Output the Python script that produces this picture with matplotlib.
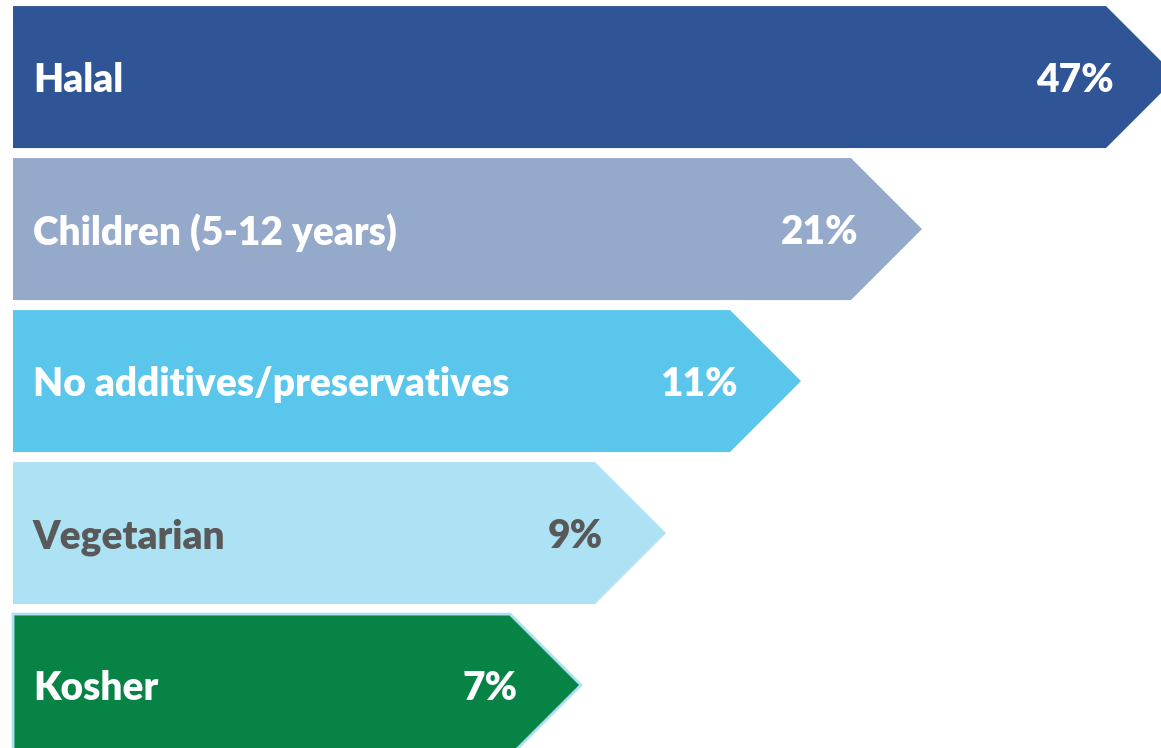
import matplotlib.pyplot as plt
from matplotlib.patches import Polygon

plt.rcParams['font.family'] = ['Lato', 'DejaVu Sans']

categories = ["Halal", "Children (5-12 years)", "No additives/preservatives", "Vegetarian", "Kosher"]
shares = [47, 21, 11, 9, 7]
# length of each arrow body as drawn in the infographic (not proportional to share)
arrow_lengths = [1093, 838, 717, 582, 497]

FILL_COLORS = ["#2F5597", "#95A9CB", "#5BC6EB", "#ACE2F4", "#078445"]
TEXT_COLORS = ["white", "white", "white", "#595959", "white"]
EDGE_COLORS = ["none", "none", "none", "none", "#AEE0F2"]

W, H, DPI = 11.61, 7.48, 100
BAR_HEIGHT = 0.934
LABEL_PAD = 20
VALUE_PAD = 8
FONT_SIZE = 28


def arrow(ax, y, length, color, edge):
    # tip depth so the arrow head has 45 degree edges
    px_per_x = W * DPI / (ax.get_xlim()[1] - ax.get_xlim()[0])
    px_per_y = H * DPI / abs(ax.get_ylim()[1] - ax.get_ylim()[0])
    half = BAR_HEIGHT / 2
    depth = half * px_per_y / px_per_x
    pts = [(0, y - half), (length, y - half), (length + depth, y),
           (length, y + half), (0, y + half)]
    lw = 2 if edge != "none" else 0
    ax.add_patch(Polygon(pts, closed=True, facecolor=color, edgecolor=edge,
                         linewidth=lw, joinstyle='miter'))


fig = plt.figure(figsize=(W, H), dpi=DPI)
ax = fig.add_axes([0, 0, 1, 1])
ax.set_xlim(-13, 1148)
ax.set_ylim(4.414, -0.507)
ax.axis('off')

for i, (cat, share, length) in enumerate(zip(categories, shares, arrow_lengths)):
    arrow(ax, i, length, FILL_COLORS[i], EDGE_COLORS[i])
    ax.text(LABEL_PAD, i, cat, color=TEXT_COLORS[i], fontsize=FONT_SIZE,
            fontweight='heavy', va='center_baseline', ha='left')
    ax.text(length + VALUE_PAD, i, f"{share}%", color=TEXT_COLORS[i], fontsize=FONT_SIZE,
            fontweight='heavy', va='center_baseline', ha='right')

fig.savefig("out.png", dpi=DPI)
